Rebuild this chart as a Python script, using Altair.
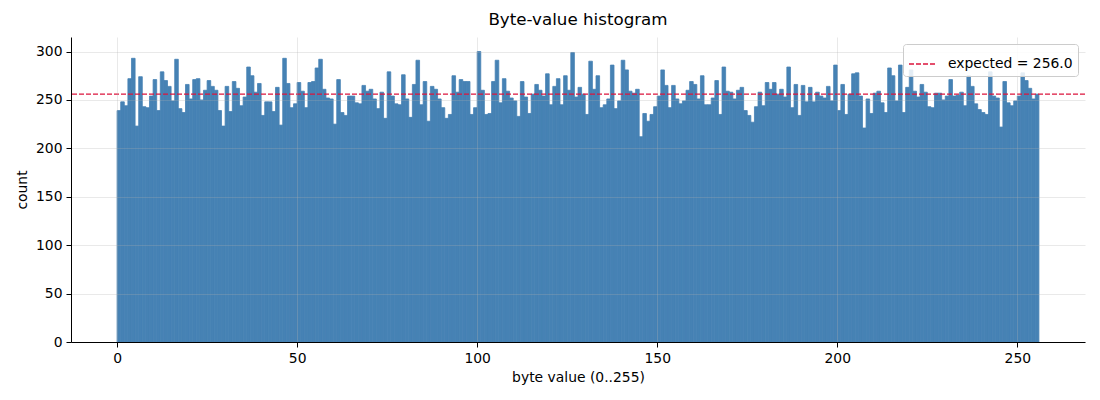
import altair as alt
import pandas as pd

# Counts per byte value
COUNTS = [
    239, 248, 244, 272, 293, 223, 274, 243, 242, 254, 271, 239, 279, 270, 264, 249, 292, 241, 237, 266, 251, 271,
    272, 250, 260, 270, 264, 260, 239, 223, 264, 238, 269, 262, 244, 253, 284, 275, 258, 267, 234, 248, 248,
    238, 263, 224, 293, 267, 242, 246, 268, 259, 242, 268, 269, 283, 292, 261, 252, 251, 225, 271, 237, 234, 254,
    254, 247, 246, 265, 259, 261, 251, 241, 258, 231, 279, 254, 246, 245, 276, 251, 232, 266, 291, 245, 269,
    228, 264, 261, 251, 242, 231, 235, 275, 258, 271, 269, 269, 235, 242, 300, 260, 235, 236, 269, 291, 247,
    272, 259, 252, 249, 233, 269, 253, 236, 256, 266, 260, 254, 277, 245, 264, 272, 245, 275, 260, 299, 253, 263,
    256, 235, 290, 261, 275, 242, 245, 251, 286, 241, 249, 291, 281, 259, 257, 261, 212, 236, 228, 235, 243,
    254, 281, 265, 242, 265, 251, 246, 249, 260, 269, 266, 251, 275, 245, 245, 252, 270, 235, 284, 259, 258,
    251, 260, 263, 239, 234, 227, 243, 258, 244, 268, 261, 268, 256, 261, 253, 284, 242, 266, 234, 265, 248, 263,
    248, 258, 254, 252, 264, 249, 286, 239, 266, 235, 256, 277, 278, 254, 221, 251, 236, 257, 259, 247, 237,
    283, 275, 249, 286, 237, 263, 281, 259, 253, 266, 258, 243, 242, 257, 257, 250, 254, 271, 254, 255, 258,
    244, 275, 264, 246, 240, 237, 235, 279, 254, 252, 222, 269, 247, 244, 249, 254, 278, 270, 262, 251, 256,
]
BYTES = list(range(len(COUNTS)))

EXPECTED_VALUE = [256.0]
EXPECTED_LABEL = ["expected = 256.0"]

X_TICKS = [0, 50, 100, 150, 200, 250]
Y_TICKS = [0, 50, 100, 150, 200, 250, 300]

FONT = "DejaVu Sans"

bars_df = pd.DataFrame({"byte": BYTES, "count": COUNTS})
exp_df = pd.DataFrame({"value": EXPECTED_VALUE, "label": EXPECTED_LABEL})

x_scale = alt.Scale(domain=[-12.8, 268.8], nice=False, zero=False)
y_scale = alt.Scale(domain=[0, 315], nice=False)

bars = (
    alt.Chart(bars_df)
    .transform_calculate(end="datum.byte + 1", base="0")
    .mark_bar(color="#4682b4", stroke="#4682b4", strokeWidth=0.8)
    .encode(
        x=alt.X(
            "byte:Q",
            scale=x_scale,
            axis=alt.Axis(
                values=X_TICKS,
                title="byte value (0..255)",
                format="d",
                zindex=1,
            ),
        ),
        x2="end:Q",
        y=alt.Y(
            "count:Q",
            scale=y_scale,
            axis=alt.Axis(values=Y_TICKS, title="count", format="d", zindex=1),
        ),
        y2="base:Q",
    )
)

rule = (
    alt.Chart(exp_df)
    .mark_rule(strokeDash=[5, 2], strokeWidth=1.3)
    .encode(
        y=alt.Y("value:Q", scale=y_scale),
        color=alt.Color(
            "label:N",
            scale=alt.Scale(range=["#dc143c"]),
            legend=alt.Legend(
                title=None,
                orient="top-right",
                offset=7,
                padding=5,
                fillColor="rgba(255,255,255,0.85)",
                strokeColor="#cccccc",
                cornerRadius=3,
                symbolType="stroke",
                symbolStrokeWidth=1.3,
                symbolDash=[5, 2],
                symbolSize=784,
                labelFontSize=13.9,
                labelFont=FONT,
                labelColor="#000000",
                labelOffset=10,
                zindex=2,
            ),
        ),
    )
)

chart = (
    alt.layer(bars, rule)
    .properties(
        width=1014,
        height=305,
        title=alt.TitleParams(
            "Byte-value histogram",
            font=FONT,
            fontSize=16.7,
            fontWeight="normal",
            color="#000000",
            anchor="middle",
            offset=8,
        ),
        autosize=alt.AutoSizeParams(type="none"),
        padding={"left": 63, "top": 29, "right": 7, "bottom": 45},
    )
    .configure_view(stroke=None)
    .configure_axis(
        labelFont=FONT,
        titleFont=FONT,
        labelFontSize=13.9,
        titleFontSize=13.9,
        titleFontWeight="normal",
        labelColor="#000000",
        titleColor="#000000",
        domainColor="#000000",
        domainWidth=1,
        tickColor="#000000",
        tickSize=5,
        tickWidth=1,
        labelPadding=4,
        titlePadding=6,
        grid=True,
        gridColor="#b0b0b0",
        gridOpacity=0.35,
        gridWidth=0.8,
    )
)

chart.save("out.html", embed_options={"renderer": "svg", "actions": False})
